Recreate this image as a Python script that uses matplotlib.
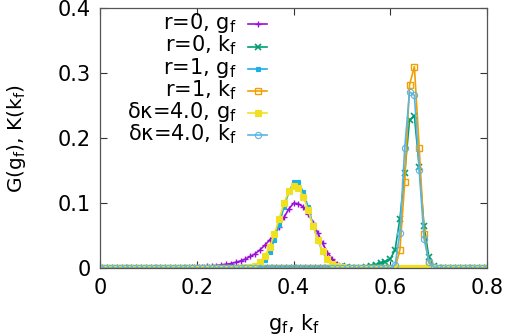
import numpy as np
import matplotlib
matplotlib.use("Agg")
import matplotlib.pyplot as plt

plt.rcParams['font.family'] = ['DejaVu Sans']
plt.rcParams['mathtext.fontset'] = 'dejavusans'

# x grid (g_f, k_f), step 0.01 from 0 to 0.8
x = np.round(np.arange(0, 81) * 0.01, 2)

r0_gf = [0.0]*19 + [0.001, 0.002, 0.002, 0.003, 0.003, 0.004, 0.005, 0.006, 0.007, 0.009,
                    0.011, 0.014, 0.018, 0.022, 0.028, 0.035, 0.043, 0.052, 0.064, 0.078,
                    0.091, 0.100, 0.099, 0.094, 0.084, 0.070, 0.054, 0.038, 0.024, 0.014,
                    0.007, 0.003, 0.001] + [0.0]*29
r0_kf = [0.0]*49 + [0.002, 0.003, 0.001, 0.0, 0.0, 0.0, 0.002, 0.004, 0.005, 0.008,
                    0.010, 0.014, 0.028, 0.076, 0.147, 0.228, 0.234, 0.156, 0.065, 0.017,
                    0.004] + [0.0]*11
r1_gf = [0.0]*30 + [0.001, 0.001, 0.002, 0.006, 0.013, 0.025, 0.043, 0.067, 0.094, 0.117,
                    0.132, 0.132, 0.117, 0.094, 0.067, 0.043, 0.025, 0.013, 0.006, 0.002,
                    0.001] + [0.0]*30
r1_kf = [0.0]*62 + [0.028, 0.132, 0.282, 0.310, 0.185, 0.053, 0.008] + [0.0]*12
dk_gf = [0.0]*30 + [0.001, 0.002, 0.004, 0.009, 0.018, 0.032, 0.052, 0.076, 0.100, 0.118,
                    0.127, 0.124, 0.110, 0.089, 0.065, 0.043, 0.026, 0.014, 0.007, 0.003,
                    0.001] + [0.0]*30
dk_kf = [0.0]*61 + [0.005, 0.054, 0.185, 0.271, 0.266, 0.151, 0.045, 0.010, 0.002] + [0.0]*11

labels = [r'r=0, g$_\mathrm{f}$', r'r=0, k$_\mathrm{f}$', r'r=1, g$_\mathrm{f}$',
          r'r=1, k$_\mathrm{f}$', r'δκ=4.0, g$_\mathrm{f}$', r'δκ=4.0, k$_\mathrm{f}$']
xticks = [0, 0.2, 0.4, 0.6, 0.8]
xticklabels = ['0', '0.2', '0.4', '0.6', '0.8']
yticks = [0, 0.1, 0.2, 0.3, 0.4]
yticklabels = ['0', '0.1', '0.2', '0.3', '0.4']

fig = plt.figure(figsize=(5.05, 3.36), dpi=100)
ax = fig.add_axes([0.199, 0.202, 0.765, 0.774])

series = [r0_gf, r0_kf, r1_gf, r1_kf, dk_gf, dk_kf]
styles = [
    dict(color='#9b10d8', marker='+', ms=4, mew=1.0),
    dict(color='#009e73', marker='x', ms=4, mew=1.2),
    dict(color='#1cb0e6', marker='s', ms=3.5, mew=0.8),
    dict(color='#f0a000', marker='s', ms=5, mfc='none', mew=1.0),
    dict(color='#f0e020', marker='s', ms=4, mew=0.8),
    dict(color='#5ab4e4', marker='o', ms=4.5, mfc='none', mew=0.8),
]
for y, st in zip(series, styles):
    ax.plot(x, y, lw=1.2, **st)

# gnuplot-style key: right-aligned text, sample line to the right
row_y = [0.938, 0.852, 0.767, 0.681, 0.596, 0.510]
for yy, st, lab in zip(row_y, styles, labels):
    ax.text(0.353, yy - 0.02, lab, transform=ax.transAxes, ha='right', va='baseline',
            fontsize=15)
    ax.plot([0.382, 0.431], [yy, yy], transform=ax.transAxes, lw=1.2, clip_on=False,
            color=st['color'])
    ax.plot([0.4065], [yy], transform=ax.transAxes, ls='none', clip_on=False, **st)

ax.set_xlim(0, 0.8)
ax.set_ylim(0, 0.4)
ax.set_xticks(xticks)
ax.set_xticklabels(xticklabels)
ax.set_yticks(yticks)
ax.set_yticklabels(yticklabels)
ax.tick_params(direction='in', top=True, right=True, length=5, width=0.8,
               labelsize=15, colors='#333333', labelcolor='black', pad=7)
for s in ax.spines.values():
    s.set_color('#555555')
    s.set_linewidth(0.9)

ax.set_xlabel(r'g$_\mathrm{f}$, k$_\mathrm{f}$', fontsize=15, labelpad=10)
ax.set_ylabel(r'G(g$_\mathrm{f}$), K(k$_\mathrm{f}$)', fontsize=14.5, labelpad=21)

fig.savefig('out.png', dpi=100)
